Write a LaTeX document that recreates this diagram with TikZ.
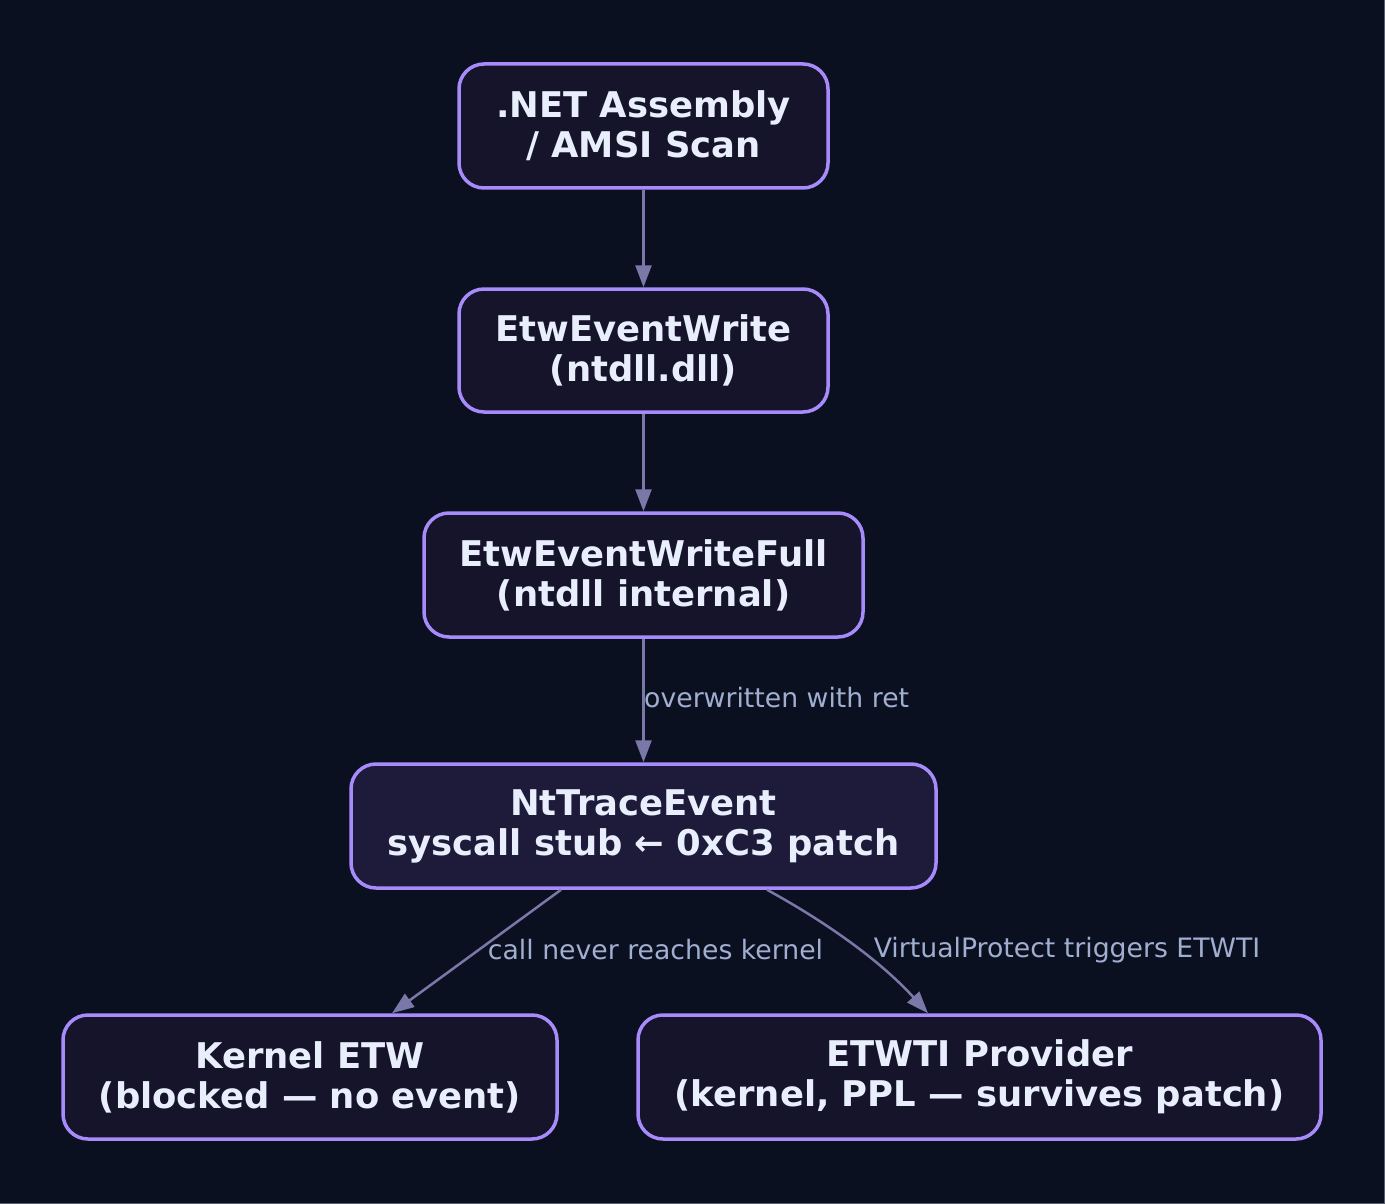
\documentclass[tikz,border=0pt]{standalone}
\usepackage{fontspec}
\setmainfont{DejaVu Sans}
\usetikzlibrary{arrows.meta}
\definecolor{bgc}{HTML}{0B1020}
\definecolor{nodefill}{HTML}{16142B}
\definecolor{hotfill}{HTML}{1E1B3A}
\definecolor{bordc}{HTML}{A78BFA}
\definecolor{txtc}{HTML}{E8EEFC}
\definecolor{edgec}{HTML}{7A78A8}
\definecolor{lblc}{HTML}{A0AED0}
\definecolor{framec}{HTML}{5A5F70}
\tikzset{
  box/.style={draw=bordc, line width=3.5pt, rounded corners=25pt, fill=nodefill,
    text=txtc, align=center, inner sep=0pt,
    font=\fontsize{35.4}{40}\selectfont\bfseries},
  conn/.style={draw=edgec, line width=2.5pt,
    -{Triangle[length=22pt,width=16pt]}},
  elabel/.style={text=lblc, font=\fontsize{26.7}{30}\selectfont, inner sep=0pt}
}
\begin{document}
\begin{tikzpicture}[x=1pt,y=-1pt]
\fill[bgc] (0,0) rectangle (1385,1204);
\useasboundingbox (0,0) rectangle (1385,1204);
\draw[framec, line width=1.5pt] (1384.5,0) -- (1384.5,1203.5) -- (0,1203.5);

\node[box, minimum width=369pt, minimum height=124pt] (n1) at (643.5,126) {.NET Assembly\\/ AMSI Scan};
\node[box, minimum width=369pt, minimum height=123pt] (n2) at (643.5,350.5) {EtwEventWrite\\(ntdll.dll)};
\node[box, minimum width=439pt, minimum height=124pt] (n3) at (643.5,575) {EtwEventWriteFull\\(ntdll internal)};
\node[box, fill=hotfill, minimum width=585pt, minimum height=124pt] (n4) at (643.5,826) {NtTraceEvent\\syscall stub ← 0xC3 patch};
\node[box, minimum width=494pt, minimum height=124pt] (n5) at (310,1077) {Kernel ETW\\(blocked — no event)};
\node[box, minimum width=683pt, minimum height=124pt] (n6) at (979.5,1077) {ETWTI Provider\\(kernel, PPL — survives patch)};

\draw[conn] (n1) -- (n2);
\draw[conn] (n2) -- (n3);
\draw[conn] (n3) -- (n4);
\node[elabel, anchor=west] (l1) at (644,698) {overwritten with ret};

\coordinate (a5) at ([xshift=-82.5pt]n4.south);
\coordinate (b5) at ([xshift=82pt]n5.north);
\draw[conn] (a5) -- (b5);
\node[elabel] (l2) at (655.5,950) {call never reaches kernel};

\coordinate (a6) at ([xshift=123.5pt]n4.south);
\coordinate (b6) at ([xshift=-51.5pt]n6.north);
\draw[conn] (a6) .. controls (815,916) and (875,955) .. (b6);
\node[elabel] (l3) at (1067,950) {VirtualProtect triggers ETWTI};
\end{tikzpicture}
\end{document}
